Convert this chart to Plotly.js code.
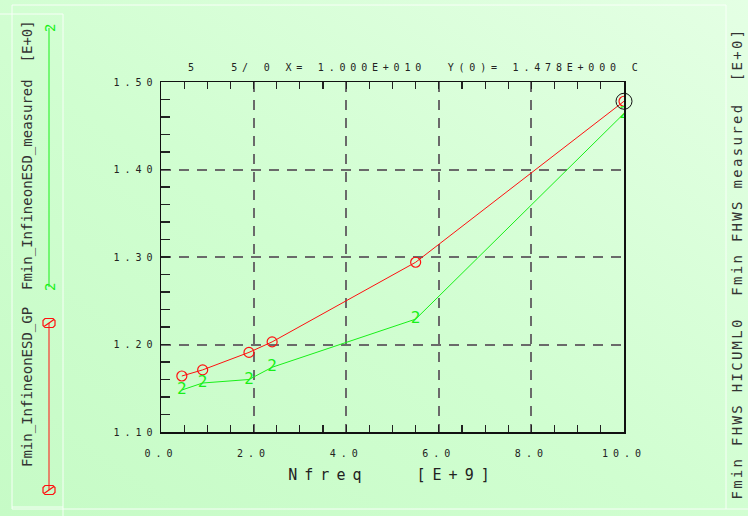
<!DOCTYPE html>
<html>
<head>
<meta charset="utf-8">
<script src="https://cdn.plot.ly/plotly-3.0.1.min.js"></script>
<style>
html,body{margin:0;padding:0;}
body{width:748px;height:516px;overflow:hidden;background:linear-gradient(to top right,#c6fbc6 0%,#d0fed0 45%,#e4ffe4 100%);}
#chart{width:748px;height:516px;}
.xtick text,.ytick text{letter-spacing:5px;}
.xtitle{letter-spacing:7px;}
</style>
</head>
<body>
<div id="chart"></div>
<script>
// ---- data ----
var freq = [0.45, 0.9, 1.9, 2.4, 5.5, 10.0];
var fminGP = [1.164, 1.171, 1.191, 1.203, 1.294, 1.478];
var fminMeasured = [1.148, 1.156, 1.160, 1.174, 1.229, 1.464];
var xTickVals = [0, 2, 4, 6, 8, 10];
var xTickText = ['0.0', '2.0', '4.0', '6.0', '8.0', '10.0'];
var yTickVals = [1.1, 1.2, 1.3, 1.4, 1.5];
var yTickText = ['1.10', '1.20', '1.30', '1.40', '1.50'];
var cursorX = [10.0];
var cursorY = [1.478];
var headerText = '5   5/ 0 X= 1.000E+010  Y(0)= 1.478E+000 C';
var leftLegendText = 'Fmin_InfineonESD_GP  Fmin_InfineonESD_measured  [E+0]';
var rightLegendText = 'Fmin FHWS HICUML0  Fmin FHWS measured  [E+0]';
var xTitle = 'Nfreq   [E+9]';

// ---- layout helpers (pixel -> paper) ----
var L = 161, T = 82, W = 463, H = 350;
function PX(px){ return (px - L) / W; }
function PY(py){ return (T + H - py) / H; }
function nb(s){ return s.replace(/ /g, '\u00A0'); }

var RED = '#ff1010', GREEN = '#18f018', MONO = 'DejaVu Sans Mono';

var traces = [
  {x: freq, y: fminGP, mode: 'lines+markers', type: 'scatter',
   line: {color: RED, width: 1},
   marker: {symbol: 'circle-open', size: 10, color: RED, line: {width: 1.2, color: RED}}},
  {x: freq, y: fminMeasured, mode: 'lines+text', type: 'scatter',
   text: freq.map(function(){return '2';}), textposition: 'middle center',
   textfont: {family: MONO, size: 16, color: GREEN},
   line: {color: GREEN, width: 1}},
  {x: cursorX, y: cursorY, mode: 'markers', type: 'scatter', cliponaxis: false,
   marker: {symbol: 'circle-open', size: 16, color: '#111', line: {width: 1, color: '#111'}}}
];

var frame = 'rgba(250,255,250,0.95)';
function seg(x0,y0,x1,y1,color,w){
  return {type:'line', xref:'paper', yref:'paper', x0:PX(x0), y0:PY(y0), x1:PX(x1), y1:PY(y1),
          line:{color:color, width:w||1}, layer:'below'};
}
function legMarker(cx, cy){
  var hw = 6, hh = 4.5, c = 2;
  var pts = [[cx-hw+c,cy-hh],[cx+hw-c,cy-hh],[cx+hw,cy-hh+c],[cx+hw,cy+hh-c],[cx+hw-c,cy+hh],[cx-hw+c,cy+hh],[cx-hw,cy+hh-c],[cx-hw,cy-hh+c]];
  var d = 'M' + pts.map(function(p){return PX(p[0]) + ',' + PY(p[1]);}).join(' L') + ' Z' +
          ' M' + PX(cx-hw+1) + ',' + PY(cy+hh-1) + ' L' + PX(cx+hw-1) + ',' + PY(cy-hh+1);
  return {type:'path', xref:'paper', yref:'paper', path:d, line:{color:RED, width:1.2}};
}

var shapes = [
  seg(12,5,726,5,frame), seg(12,5,12,509,frame), seg(726,5,726,509,frame), seg(12,509,748,509,frame),
  seg(0,14,63,14,frame), seg(63,14,63,516,frame), seg(12,507,63,507,frame),
  {type:'line', xref:'paper', yref:'paper', x0:PX(49), y0:PY(28), x1:PX(49), y1:PY(287), line:{color:GREEN, width:1}},
  {type:'line', xref:'paper', yref:'paper', x0:PX(49), y0:PY(323), x1:PX(49), y1:PY(490), line:{color:RED, width:1}},
  legMarker(49,323), legMarker(49,490)
];

var annotations = [
  {xref:'paper', yref:'paper', x:PX(186), y:PY(68), xanchor:'left', yanchor:'middle', align:'left',
   text: nb(headerText), showarrow:false, font:{family:MONO, size:10, color:'#222'}},
  {xref:'paper', yref:'paper', x:PX(737), y:PY(264), xanchor:'center', yanchor:'middle', textangle:-90,
   text: nb(rightLegendText), showarrow:false, font:{family:MONO, size:14, color:'#333'}},
  {xref:'paper', yref:'paper', x:PX(27), y:PY(244), xanchor:'center', yanchor:'middle', textangle:-90,
   text: nb(leftLegendText), showarrow:false, font:{family:MONO, size:14, color:'#333'}},
  {xref:'paper', yref:'paper', x:PX(50), y:PY(28), xanchor:'center', yanchor:'middle', textangle:-90,
   text:'2', showarrow:false, font:{family:MONO, size:14, color:GREEN}},
  {xref:'paper', yref:'paper', x:PX(50), y:PY(287), xanchor:'center', yanchor:'middle', textangle:-90,
   text:'2', showarrow:false, font:{family:MONO, size:14, color:GREEN}}
];

var axisCommon = {
  showline: true, linecolor: '#111', linewidth: 1.5, zeroline: false,
  ticks: 'inside', tickcolor: '#222', tickwidth: 1.2,
  showgrid: true, gridcolor: '#6a6a6a', gridwidth: 2, griddash: '10px,8px',
  tickfont: {family: MONO, size: 10, color: '#222'}
};

var layout = {
  width: 748, height: 516,
  margin: {l: L, r: 748 - L - W, t: T, b: 516 - T - H, pad: 0},
  paper_bgcolor: 'rgba(0,0,0,0)', plot_bgcolor: 'rgba(0,0,0,0)',
  showlegend: false,
  xaxis: Object.assign({}, axisCommon, {
    range: [0, 10], tickmode: 'array', tickvals: xTickVals, ticktext: xTickText,
    ticklen: 7, mirror: 'allticks', ticklabelstandoff: 11,
    minor: {tick0: 0, dtick: 0.5, ticks: 'inside', ticklen: 7, tickcolor: '#222', tickwidth: 1.2, showgrid: false},
    title: {text: nb(xTitle), font: {family: MONO, size: 15, color: '#222'}, standoff: 12}
  }),
  yaxis: Object.assign({}, axisCommon, {
    range: [1.10, 1.50], tickmode: 'array', tickvals: yTickVals, ticktext: yTickText,
    ticklen: 9, mirror: true,
    minor: {tick0: 1.1, dtick: 0.02, ticks: 'inside', ticklen: 9, tickcolor: '#222', tickwidth: 1.2, showgrid: false}
  }),
  shapes: shapes,
  annotations: annotations
};

Plotly.newPlot('chart', traces, layout, {displayModeBar: false, staticPlot: true}).then(function(){
  var at = document.querySelectorAll('.annotation-text');
  if (at[0]) at[0].style.letterSpacing = '4.8px';
  if (at[1]) at[1].style.letterSpacing = '2.3px';
});
</script>
</body>
</html>
